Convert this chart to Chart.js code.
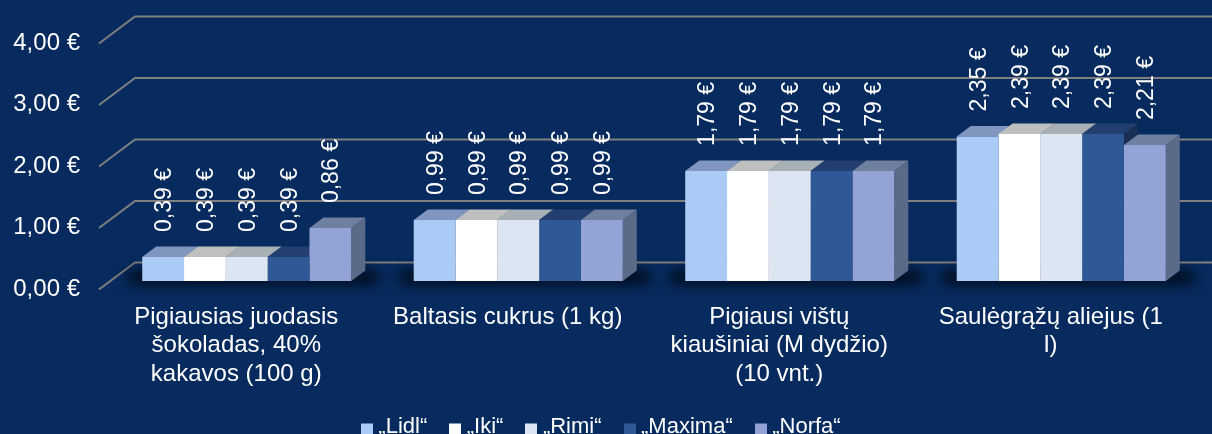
<!DOCTYPE html>
<html><head><meta charset="utf-8">
<style>html,body{margin:0;padding:0;background:#072B5E;overflow:hidden}#c{display:block}</style>
<script src="https://cdn.jsdelivr.net/npm/chart.js@4"></script>
</head><body><canvas id="c" width="1212" height="434"></canvas>
<script>
const categories = [
  ["Pigiausias juodasis","šokoladas, 40%","kakavos (100 g)"],
  ["Baltasis cukrus (1 kg)"],
  ["Pigiausi vištų","kiaušiniai (M dydžio)","(10 vnt.)"],
  ["Saulėgrąžų aliejus (1","l)"]
];
const seriesNames = ["„Lidl“","„Iki“","„Rimi“","„Maxima“","„Norfa“"];
const lidl   = [0.39,0.99,1.79,2.35];
const iki    = [0.39,0.99,1.79,2.39];
const rimi   = [0.39,0.99,1.79,2.39];
const maxima = [0.39,0.99,1.79,2.39];
const norfa  = [0.86,0.99,1.79,2.21];
const frontColors = ["#ABCBF7","#FFFFFF","#DCE6F2","#2F5897","#93A3D5"];
const topColors   = ["#8096BE","#BFBFBF","#A6B0B5","#233F6F","#6E7FA0"];
const sideColors  = ["#5F7090","#8F8F8F","#7C8488","#1A2F53","#5C6A8A"];
const euro = v => v.toFixed(2).replace(".",",")+" €";
const FONT = "'Liberation Sans', Arial, sans-serif";

function swatch(color){
  const c=document.createElement("canvas"); c.width=12; c.height=17;
  const g=c.getContext("2d"); g.fillStyle=color; g.fillRect(0,5,12,12);
  return c;
}

const threeD = {
  id:"threeD",
  beforeDatasetsDraw(ch){
    const g=ch.ctx, y=ch.scales.y, R=ch.width;
    g.save(); g.strokeStyle="#808080"; g.lineWidth=2;
    y.ticks.forEach(t=>{const p=y.getPixelForValue(t.value);
      g.beginPath(); g.moveTo(99,p+0.5); g.lineTo(135,p-26.5); g.lineTo(R,p-26.5); g.stroke();});
    g.restore();
    const metas=ch.getSortedVisibleDatasetMetas().slice().sort((a,b)=>a.index-b.index);
    g.save(); g.filter="blur(7px)"; g.fillStyle="#010815";
    categories.forEach((_,i)=>{
      const a=metas[0].data[i], b=metas[metas.length-1].data[i];
      g.fillRect(a.x-a.width/2-14,271,(b.x+b.width/2+27)-(a.x-a.width/2-14),13);
    });
    g.restore();
    const dx=14, dy=10.5;
    categories.forEach((_,i)=>{
      metas.forEach(m=>{
        const e=m.data[i], L=e.x-e.width/2, Rr=e.x+e.width/2, T=e.y, B=e.base;
        g.fillStyle=sideColors[m.index];
        g.beginPath(); g.moveTo(Rr,T); g.lineTo(Rr+dx,T-dy); g.lineTo(Rr+dx,B-dy); g.lineTo(Rr,B); g.closePath(); g.fill();
        g.fillStyle=topColors[m.index];
        g.beginPath(); g.moveTo(L,T); g.lineTo(L+dx,T-dy); g.lineTo(Rr+dx,T-dy); g.lineTo(Rr,T); g.closePath(); g.fill();
      });
    });
  },
  afterDatasetsDraw(ch){
    const g=ch.ctx;
    ch.getSortedVisibleDatasetMetas().forEach(m=>{
      m.data.forEach((e,i)=>{
        g.save(); g.translate(e.x+1.5,e.y-25); g.rotate(-Math.PI/2); g.scale(0.96,1);
        g.fillStyle="#fff"; g.font="24px "+FONT; g.textAlign="left"; g.textBaseline="middle";
        g.fillText(euro(ch.data.datasets[m.index].data[i]),0,0);
        g.restore();
      });
    });
  }
};

const values=[lidl,iki,rimi,maxima,norfa];
new Chart(document.getElementById("c"),{
  type:"bar",
  data:{labels:categories,datasets:seriesNames.map((n,i)=>({
    label:n,data:values[i],backgroundColor:frontColors[i],borderWidth:0,
    yAxisID:"yb",categoryPercentage:0.77,barPercentage:1
  }))},
  plugins:[threeD],
  options:{
    responsive:false,animation:false,
    layout:{padding:{top:43,right:15,left:10,bottom:-14}},
    scales:{
      x:{grid:{display:false,drawTicks:false},border:{display:false},
         afterFit(s){s.height=99.5;s.paddingTop=0;s.paddingBottom=0;},
         ticks:{color:"#fff",font:{family:FONT,size:24,lineHeight:1.19},padding:14,autoSkip:false,maxRotation:0,labelOffset:-10.5}},
      y:{min:0,max:4,position:"left",grid:{display:false,drawTicks:false},border:{display:false},
         afterFit(s){s.width=101;s.paddingTop=0;s.paddingBottom=0;},
         ticks:{stepSize:1,color:"#fff",padding:31,font:{family:FONT,size:24},callback:v=>euro(v)}},
      yb:{min:-0.13,max:3.87,display:false,afterFit(s){s.paddingTop=0;s.paddingBottom=0;}}
    },
    plugins:{
      tooltip:{enabled:false},
      legend:{position:"bottom",labels:{
        color:"#fff",boxWidth:1,boxHeight:12,padding:27.5,usePointStyle:true,font:{family:FONT,size:22},
        generateLabels(ch){
          return Chart.defaults.plugins.legend.labels.generateLabels(ch).map((l,i)=>({...l,pointStyle:swatch(frontColors[i])}));
        }
      }}
    }
  }
});
</script>
</body></html>
